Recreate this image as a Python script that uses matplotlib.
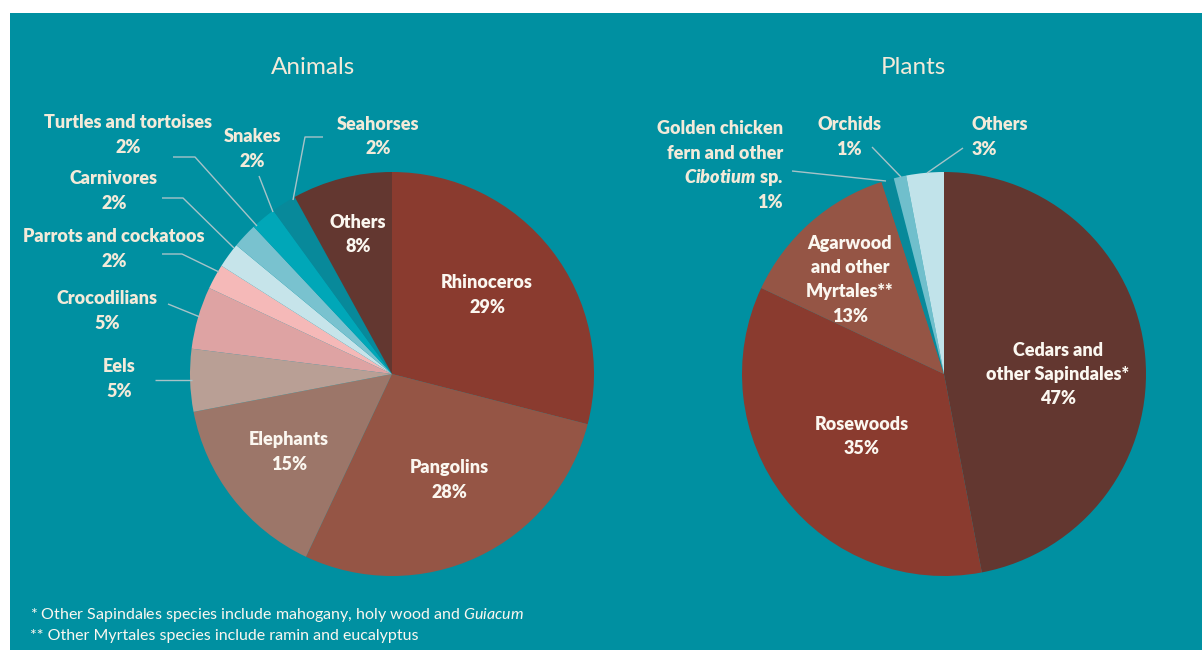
"""
Wildlife trade seizures: share by group, animals and plants
"""
import matplotlib
matplotlib.use("Agg")
import matplotlib.pyplot as plt
from matplotlib.patches import Rectangle

# data
ANIMAL_NAMES = ["Rhinoceros", "Pangolins", "Elephants", "Eels", "Crocodilians",
                "Parrots and cockatoos", "Carnivores", "Turtles and tortoises",
                "Snakes", "Seahorses", "Others"]
ANIMAL_SHARE = [29, 28, 15, 5, 5, 2, 2, 2, 2, 2, 8]

PLANT_NAMES = ["Cedars and\nother Sapindales*", "Rosewoods",
               "Agarwood\nand other\nMyrtales**",
               "Golden chicken\nfern and other\n$\\mathit{Cibotium}$ sp.",
               "Orchids", "Others"]
PLANT_SHARE = [47, 35, 13, 1, 1, 3]

# styling
W, H = 1202, 650
BG = "#0090a1"
CREAM = "#f3ead9"
WHITE = "#fbf7f0"
LINE = "#a7c3c8"
R = 202
ANIMAL_COLORS = ["#8a3b2f", "#955545", "#9c7669", "#b99f95", "#dea3a3",
                 "#f5b9b8", "#c6e4ea", "#79c2cf", "#00a7b8", "#08899a",
                 "#633730"]
PLANT_COLORS = ["#633730", "#8a3b2f", "#955545", "#08899a", "#70bfcc",
                "#c1e3ea"]

plt.rcParams["font.family"] = ["Lato", "DejaVu Sans"]
plt.rcParams["mathtext.fontset"] = "custom"
plt.rcParams["mathtext.it"] = "Lato:style=italic:weight=heavy"
plt.rcParams["mathtext.sf"] = "Lato:style=italic"

fig = plt.figure(figsize=(W / 100, H / 100), dpi=100, facecolor="white")

# overlay in pixel coordinates for the frame, texts and leader lines
ov = fig.add_axes([0, 0, 1, 1], zorder=3)
ov.set_xlim(0, W)
ov.set_ylim(H, 0)
ov.axis("off")
ov.patch.set_alpha(0)

bgax = fig.add_axes([0, 0, 1, 1], zorder=0)
bgax.set_xlim(0, W)
bgax.set_ylim(H, 0)
bgax.axis("off")
bgax.add_patch(Rectangle((10, 13), W - 10, H - 13, color=BG, lw=0))


def pie_axes(cx, cy, values, colors):
    """square axes whose unit radius is R pixels, centred on (cx, cy)"""
    ax = fig.add_axes([(cx - R) / W, (H - cy - R) / H, 2 * R / W, 2 * R / H],
                      zorder=1)
    ax.pie(values, colors=colors, startangle=90, counterclock=False,
           wedgeprops=dict(linewidth=0.3, edgecolor="none"))
    ax.set_xlim(-1, 1)
    ax.set_ylim(-1, 1)
    ax.axis("off")
    return ax


pie_axes(392, 374, ANIMAL_SHARE, ANIMAL_COLORS)
pie_axes(944, 374, PLANT_SHARE, PLANT_COLORS)


def label(x, y, name, share, color=CREAM, ha="center", step=24.5):
    lines = name.split("\n") + [str(share) + "%"]
    for i, text in enumerate(lines):
        ov.text(x, y + i * step, text, color=color, fontsize=13,
                fontweight="heavy", ha=ha, va="center")


# titles
ov.text(313, 68, "Animals", color=CREAM, fontsize=17.5, ha="center",
        va="center")
ov.text(913, 68, "Plants", color=CREAM, fontsize=17.5, ha="center",
        va="center")

# animal labels: (x, y) of first line
inside_a = {0: (487, 283), 1: (449, 468), 2: (289, 440), 10: (358, 222)}
outside_a = {3: (119, 367), 4: (107, 299), 5: (114, 237), 6: (114, 179),
             7: (128, 123), 8: (252, 137), 9: (378, 124)}
for i, (x, y) in inside_a.items():
    label(x, y, ANIMAL_NAMES[i], ANIMAL_SHARE[i], color=WHITE)
for i, (x, y) in outside_a.items():
    label(x, y, ANIMAL_NAMES[i], ANIMAL_SHARE[i])

leaders_a = [
    [(155, 380), (192, 380)],
    [(168, 304), (200, 317)],
    [(162, 254), (182, 254), (219, 272)],
    [(162, 198), (183, 198), (234, 248)],
    [(173, 157), (195, 157), (257, 226)],
    [(259, 176), (273, 212)],
    [(323, 137), (305, 137), (293, 200)],
]

# plant labels
inside_p = {0: (1058, 350), 1: (862, 424), 2: (850, 243)}
for i, (x, y) in inside_p.items():
    label(x, y, PLANT_NAMES[i], PLANT_SHARE[i], color=WHITE)
label(783, 129, PLANT_NAMES[3], PLANT_SHARE[3], ha="right")
label(849, 125, PLANT_NAMES[4], PLANT_SHARE[4])
label(972, 125, PLANT_NAMES[5], PLANT_SHARE[5], ha="left")

leaders_p = [
    [(792, 171), (886, 181)],
    [(872, 147), (901, 177)],
    [(963, 148), (927, 173)],
]

for pts in leaders_a + leaders_p:
    xs, ys = zip(*pts)
    ov.plot(xs, ys, color=LINE, lw=1.0, solid_capstyle="butt")

# footnotes
ov.text(30, 615, "* Other Sapindales species include mahogany, holy wood and "
        "$\\mathsf{Guiacum}$", color=WHITE, fontsize=11.5, ha="left",
        va="center")
ov.text(30, 636, "** Other Myrtales species include ramin and eucalyptus",
        color=WHITE, fontsize=11.5, ha="left", va="center")

fig.savefig("out.png", dpi=100, facecolor="white")
plt.close(fig)
